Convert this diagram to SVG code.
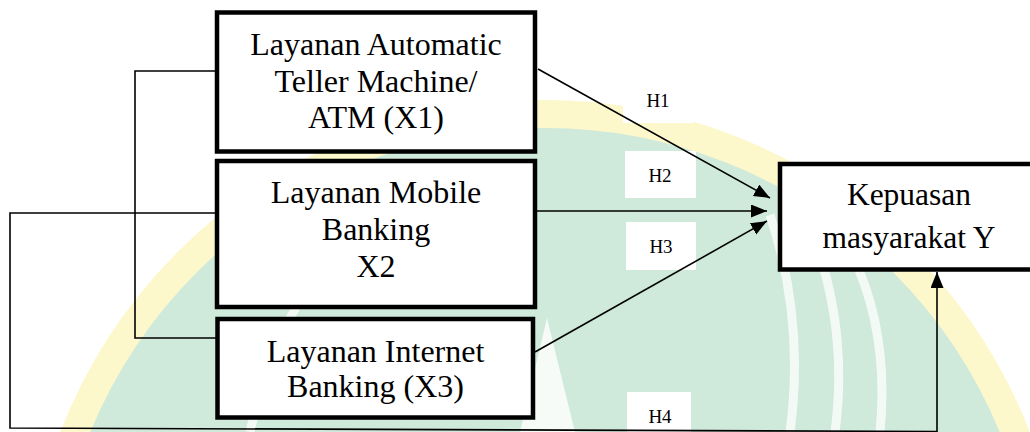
<svg xmlns="http://www.w3.org/2000/svg" width="1030" height="432" viewBox="0 0 1030 432">
  <style>
    .box { fill: #ffffff; stroke: #000000; stroke-width: 4.5; }
    .lbl { font-family: "Liberation Serif", "Times New Roman", serif; font-size: 31.5px; fill: #000000; text-anchor: middle; }
    .lx { font-size: 32px; }
    .h { font-family: "Liberation Serif", "Times New Roman", serif; font-size: 19px; fill: #000000; text-anchor: middle; }
    .hbg { fill: #ffffff; stroke: none; }
    .conn { fill: none; stroke: #000000; stroke-width: 1.6; }
  </style>
  <defs>
    <marker id="arr" markerUnits="userSpaceOnUse" markerWidth="17" markerHeight="14" refX="16" refY="6.5" orient="auto">
      <path d="M0,0 L16,6.5 L0,13 Z" fill="#000000"/>
    </marker>
  </defs>
  <rect x="0" y="0" width="1030" height="432" fill="#ffffff"/>
  <g id="watermark">
    <circle cx="545" cy="620" r="506" fill="#cfe9db" stroke="#fcf8cb" stroke-width="28"/>
    <g fill="none" stroke="#ffffff" stroke-opacity="0.75" stroke-width="9">
      <path d="M770 215 Q805 320 790 432"/>
      <path d="M805 215 Q850 320 835 432"/>
      <path d="M850 250 Q890 330 880 432"/>
      <path d="M300 300 Q265 360 250 432"/>
    </g>
    <path d="M547 318 L520 432 L575 432 Z" fill="#ffffff" fill-opacity="0.8"/>
  </g>
  <g id="labels">
    <rect class="hbg" x="623" y="76" width="71" height="47"/>
    <text class="h" x="658" y="107">H1</text>
    <rect class="hbg" x="625" y="151" width="71" height="47"/>
    <text class="h" x="660" y="182">H2</text>
    <rect class="hbg" x="626" y="222" width="70" height="48"/>
    <text class="h" x="661" y="253">H3</text>
    <rect class="hbg" x="627" y="392" width="64" height="40"/>
    <text class="h" x="660" y="423">H4</text>
  </g>
  <g id="connectors">
    <path class="conn" d="M217 71 H135 V338 H217"/>
    <path class="conn" d="M217 213 H10 V428 L937 431.5 V272" marker-end="url(#arr)"/>
    <path class="conn" d="M538 69 L770 198" marker-end="url(#arr)"/>
    <path class="conn" d="M537 211 L767 211" marker-end="url(#arr)"/>
    <path class="conn" d="M535 352 L767 221" marker-end="url(#arr)"/>
  </g>
  <g id="x1">
    <rect class="box" x="217" y="12.5" width="318" height="139"/>
    <text class="lbl lx" x="376" y="55">Layanan Automatic</text>
    <text class="lbl lx" x="376" y="92">Teller Machine/</text>
    <text class="lbl lx" x="376" y="128">ATM (X1)</text>
  </g>
  <g id="x2">
    <rect class="box" x="217" y="161" width="318" height="146"/>
    <text class="lbl lx" x="376" y="203">Layanan Mobile</text>
    <text class="lbl lx" x="376" y="240">Banking</text>
    <text class="lbl lx" x="376" y="277">X2</text>
  </g>
  <g id="x3">
    <rect class="box" x="217.5" y="319" width="315.5" height="98.5"/>
    <text class="lbl lx" x="375.5" y="362">Layanan Internet</text>
    <text class="lbl lx" x="375.5" y="397">Banking (X3)</text>
  </g>
  <g id="y">
    <rect class="box" x="780" y="164" width="262" height="105.5"/>
    <text class="lbl" x="909" y="205">Kepuasan</text>
    <text class="lbl" x="909" y="248">masyarakat Y</text>
  </g>
</svg>
